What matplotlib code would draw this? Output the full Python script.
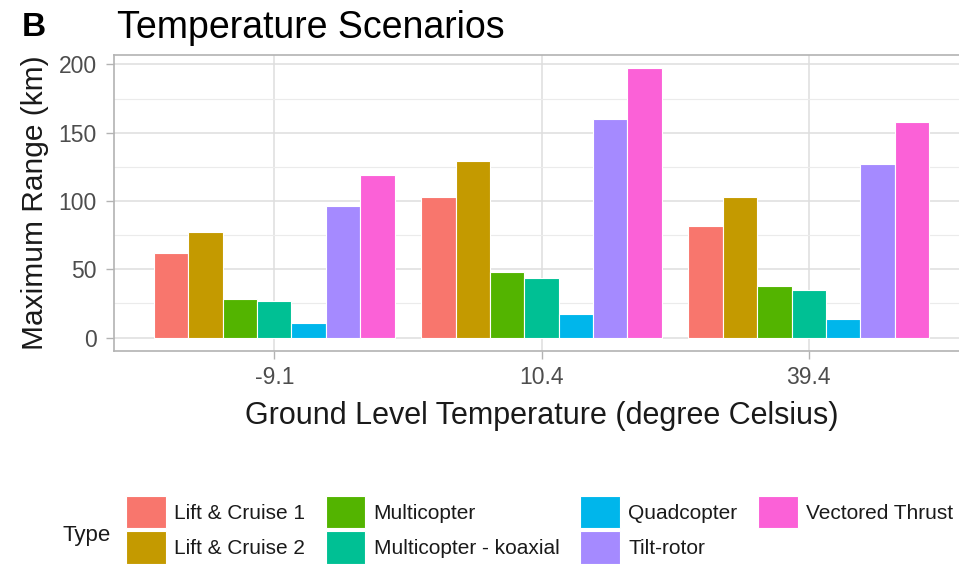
"""Grouped bar chart of maximum range per aircraft type for three ground temperatures."""
import numpy as np
import matplotlib
matplotlib.use("Agg")
from matplotlib import pyplot as plt
from matplotlib.patches import Patch

plt.rcParams['font.family'] = ['Liberation Sans', 'DejaVu Sans']

# Data
temperatures = ["-9.1", "10.4", "39.4"]
types = ["Lift & Cruise 1", "Lift & Cruise 2", "Multicopter", "Multicopter - koaxial",
         "Quadcopter", "Tilt-rotor", "Vectored Thrust"]
lift_cruise_1 = [62, 103, 82]
lift_cruise_2 = [77, 129, 103]
multicopter = [28, 48, 38]
multicopter_koaxial = [26.5, 43.5, 35]
quadcopter = [10.5, 17, 13.5]
tilt_rotor = [96, 160, 127]
vectored_thrust = [119, 197, 157.5]
series = [lift_cruise_1, lift_cruise_2, multicopter, multicopter_koaxial,
          quadcopter, tilt_rotor, vectored_thrust]

# ggplot default hue palette for 7 levels
colors = ["#F8766D", "#C49A00", "#53B400", "#00C094", "#00B6EB", "#A58AFF", "#FB61D7"]

W, H = 959, 564
fig = plt.figure(figsize=(W / 100, H / 100), dpi=100)
ax = fig.add_axes([114 / W, 1 - 351 / H, (969 - 114) / W, 296 / H])

x = np.arange(len(temperatures))
n = len(series)
bw = 0.9 / n
for i, (vals, col) in enumerate(zip(series, colors)):
    ax.bar(x - 0.45 + bw * (i + 0.5), vals, width=bw, color=col,
           edgecolor="white", linewidth=0.8, zorder=3)

# theme_light-ish panel
ax.set_xlim(-0.6, len(temperatures) - 0.4)
top = max(max(s) for s in series)
ax.set_ylim(-0.05 * top, 1.05 * top)
ax.set_xticks(x)
ax.set_xticklabels(temperatures)
ax.set_yticks([0, 50, 100, 150, 200])
ax.set_yticks([25, 75, 125, 175], minor=True)
ax.grid(which="major", color="#DEDEDE", linewidth=1.1, zorder=0)
ax.grid(which="minor", axis="y", color="#EBEBEB", linewidth=0.8, zorder=0)
for sp in ax.spines.values():
    sp.set_color("#B3B3B3")
    sp.set_linewidth(1.2)
ax.tick_params(which="major", length=6, width=1, color="#B3B3B3",
               labelsize=16.5, labelcolor="#4D4D4D")
ax.tick_params(axis="x", pad=4.5)
ax.tick_params(axis="y", pad=6.5)
ax.tick_params(which="minor", length=0)

ax.set_xlabel("Ground Level Temperature (degree Celsius)", fontsize=22,
              color="#1A1A1A", labelpad=9)
ax.set_ylabel("Maximum Range (km)", fontsize=21.5, color="#1A1A1A", labelpad=7)

fig.text(22 / W, 1 - 28 / H, "B", fontsize=24, fontweight="bold", va="center", ha="left")
fig.text(117 / W, 1 - 28 / H, "Temperature Scenarios", fontsize=27, va="center", ha="left")

# legend: columns fill top-down, title placed to the left
handles = [Patch(facecolor=c, edgecolor="white", linewidth=0.8) for c in colors]
leg = fig.legend(handles, types, ncol=4, loc="upper left",
                 bbox_to_anchor=(126 / W, 1 - 496 / H), frameon=False,
                 fontsize=15, handlelength=1.9, handleheight=2.0,
                 handletextpad=0.4, columnspacing=1.0, labelspacing=0.15,
                 borderpad=0, borderaxespad=0)
for t in leg.get_texts():
    t.set_color("#1A1A1A")
fig.text(62 / W, 1 - 535 / H, "Type", fontsize=16, va="center", ha="left", color="#1A1A1A")

fig.savefig("out.png", dpi=100)
